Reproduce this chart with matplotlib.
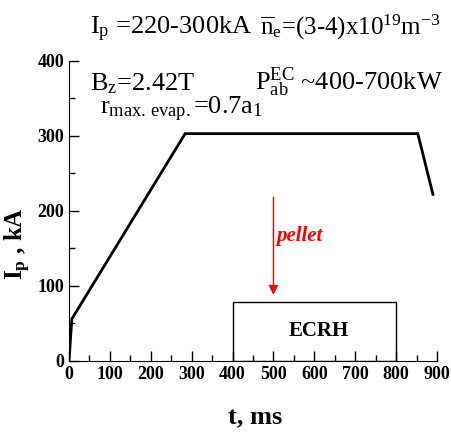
import matplotlib
matplotlib.use("Agg")
import matplotlib.pyplot as plt
from matplotlib.patches import Rectangle

plt.rcParams['font.family'] = ['Liberation Serif', 'DejaVu Serif']
plt.rcParams['mathtext.fontset'] = 'custom'
plt.rcParams['mathtext.rm'] = 'Liberation Serif'
plt.rcParams['mathtext.it'] = 'Liberation Serif:italic'
plt.rcParams['mathtext.bf'] = 'Liberation Serif:bold'

# Data
t_ms = [0, 7, 284, 853, 890]
ip_ka = [0, 56, 303, 303, 222]
ecrh_start, ecrh_end, ecrh_level = 400, 800, 79
pellet_t, pellet_top, pellet_bottom = 500, 218, 88
xticks = [0, 100, 200, 300, 400, 500, 600, 700, 800, 900]
yticks = [0, 100, 200, 300, 400]

fig = plt.figure(figsize=(4.51, 4.38), dpi=100)
ax = fig.add_axes([0.153, 0.176, 0.816, 0.685])

ax.plot(t_ms, ip_ka, color='black', lw=2.0, solid_joinstyle='miter')
ax.add_patch(Rectangle((ecrh_start, 0), ecrh_end - ecrh_start, ecrh_level,
                       fill=False, edgecolor='black', lw=1.0))
ax.text((ecrh_start + ecrh_end) / 2 + 10, ecrh_level * 0.5, 'ECRH',
        ha='center', va='center', fontsize=15, fontweight='bold')
ax.annotate('', xy=(pellet_t, pellet_bottom), xytext=(pellet_t, pellet_top),
            arrowprops=dict(arrowstyle='-|>', color='red', lw=1.0,
                            mutation_scale=14, shrinkA=0, shrinkB=0))
ax.text(pellet_t + 8, 166, 'pellet', color='red', fontsize=15,
        fontweight='bold', style='italic', ha='left', va='center')

ax.set_xlim(0, 900)
ax.set_ylim(0, 400)
ax.set_xticks(xticks)
ax.set_yticks(yticks)
ax.set_xticks(range(50, 900, 100), minor=True)
ax.set_yticks(range(50, 400, 100), minor=True)
ax.tick_params(direction='in', length=7, width=1, which='major', labelsize=13)
ax.tick_params(direction='in', length=4, width=1, which='minor')
for lbl in ax.get_xticklabels() + ax.get_yticklabels():
    lbl.set_fontweight('bold')
ax.spines['top'].set_visible(False)
ax.spines['right'].set_visible(False)

ax.set_xlabel('t, ms', fontsize=19, fontweight='bold')
ax.xaxis.set_label_coords(0.505, -0.15)
ax.set_ylabel(r'I$_\mathbf{p}$ , kA', fontsize=18, fontweight='bold')
ax.yaxis.set_label_coords(-0.098, 0.39)

kw = dict(fontsize=19, clip_on=False, ha='left', va='baseline')
ax.text(51, 435, r'I$_\mathrm{p}$ =220-300kA', **kw)
ax.text(468, 435, r'$\overline{\mathrm{n}}_\mathrm{e}$=(3-4)x10$^{19}$m$^{-3}$',
        fontsize=18, clip_on=False, ha='left', va='baseline')
ax.text(51, 361, r'B$_\mathrm{z}$=2.42T', **kw)
ax.text(455, 361, r'P$_\mathrm{ab}^{\mathrm{EC}}$ ~400-700kW', **kw)
ax.text(75, 328, r'r$_\mathrm{max.\,evap.}$=0.7a$_\mathrm{1}$', **kw)

fig.savefig('out.png', dpi=100)
